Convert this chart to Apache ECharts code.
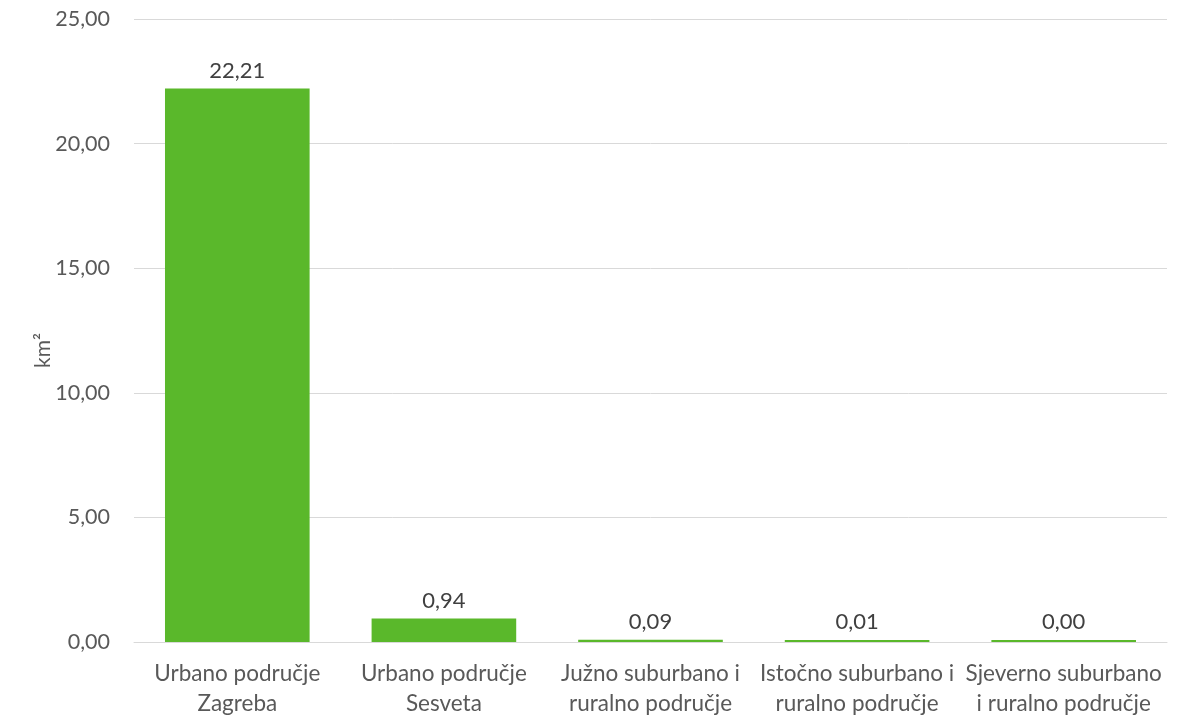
<!DOCTYPE html>
<html><head><meta charset="utf-8">
<script src="https://cdn.jsdelivr.net/npm/echarts@6/dist/echarts.min.js"></script>
<style>html,body{margin:0;padding:0;background:#fff}#c{width:1192px;height:722px}</style>
</head><body><div id="c"></div>
<script>
const categories = ["Urbano područje\nZagreba", "Urbano područje\nSesveta", "Južno suburbano i\nruralno područje", "Istočno suburbano i\nruralno područje", "Sjeverno suburbano\ni ruralno područje"];
const values = [22.21, 0.94, 0.09, 0.01, 0.004];
const yTicks = [0, 5, 10, 15, 20, 25];
const fmt = v => v.toFixed(2).replace('.', ',');
const chart = echarts.init(document.getElementById('c'));
const font = "Lato";
chart.setOption({
  animation: false,
  grid: {left: 134, right: 25, top: 19, bottom: 80},
  xAxis: {
    type: 'category', data: categories,
    axisLine: {lineStyle: {color: '#d9d9d9', width: 1}},
    axisTick: {show: false},
    axisLabel: {color: '#595959', fontFamily: font, fontSize: 22.5, lineHeight: 30, margin: 17, interval: 0}
  },
  yAxis: {
    type: 'value', min: yTicks[0], max: yTicks[yTicks.length-1], interval: 5,
    name: 'km²', nameLocation: 'middle', nameGap: 80, nameRotate: 90, nameMoveOverlap: false,
    nameTextStyle: {color: '#595959', fontFamily: font, fontSize: 21, padding: [0,0,0,-40]},
    axisLine: {show: false}, axisTick: {show: false},
    splitLine: {lineStyle: {color: '#d9d9d9', width: 1}},
    axisLabel: {color: '#595959', fontFamily: font, fontSize: 21.5, margin: 24, formatter: v => fmt(v)}
  },
  series: [{
    type: 'bar', data: values, barCategoryGap: '30%', barMinHeight: 2,
    itemStyle: {color: '#5ab82b'},
    label: {show: true, position: 'top', distance: 7, color: '#404040', fontFamily: font, fontSize: 22, formatter: p => fmt(p.value)}
  }]
});
</script></body></html>
